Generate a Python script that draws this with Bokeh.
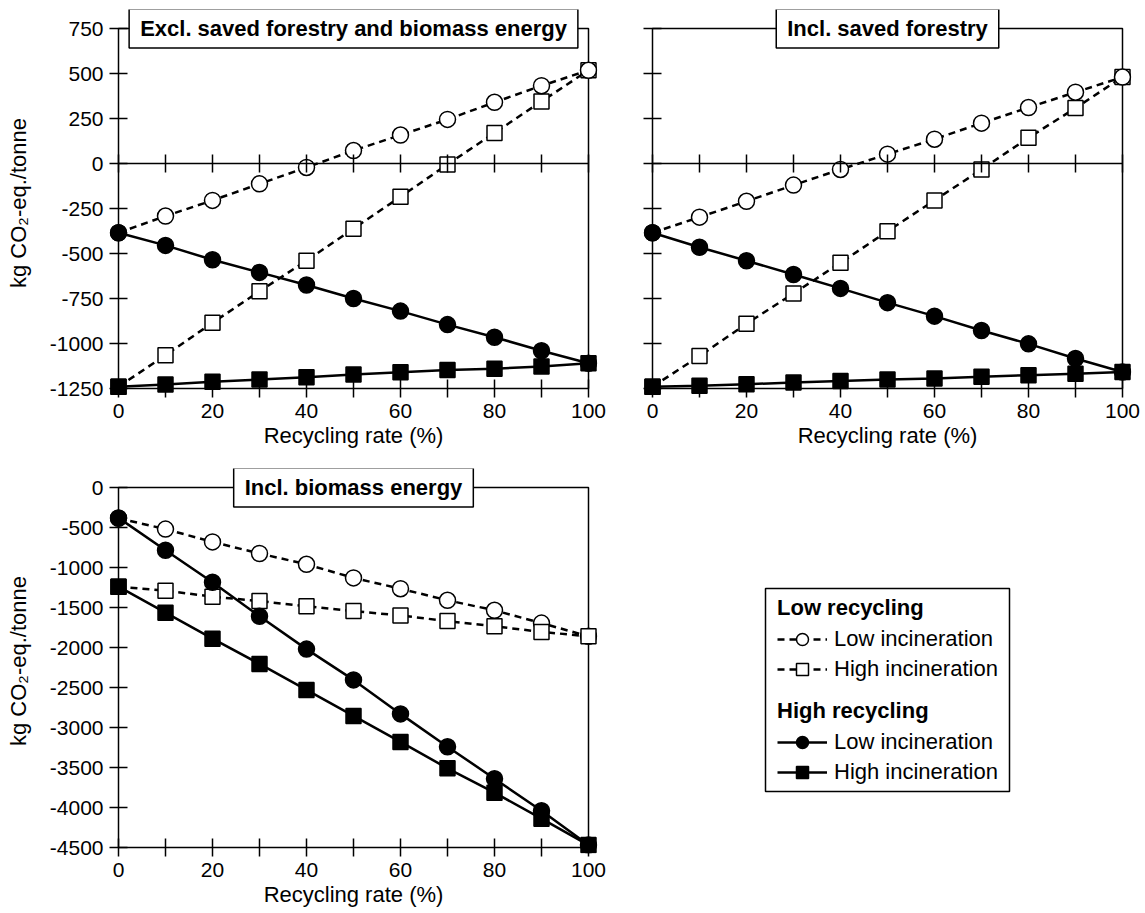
import math
from bokeh.plotting import figure
from bokeh.models import (Range1d, LinearAxis, FixedTicker, BoxAnnotation, Label,
                          Legend, LegendItem, Spacer, PrintfTickFormatter)
from bokeh.layouts import column, row
from bokeh.embed import file_html
from bokeh.resources import INLINE

# ---------------- data ----------------
recycling_rate = [0, 10, 20, 30, 40, 50, 60, 70, 80, 90, 100]
x_major_ticks = [0, 20, 40, 60, 80, 100]
x_minor_ticks = [10, 30, 50, 70, 90]
top_y_ticks = [-1250, -1000, -750, -500, -250, 0, 250, 500, 750]
bottom_y_ticks = [-4500, -4000, -3500, -3000, -2500, -2000, -1500, -1000, -500, 0]

titles = ["Excl. saved forestry and biomass energy", "Incl. saved forestry", "Incl. biomass energy"]
x_label = "Recycling rate (%)"
y_label = "kg CO\u2082-eq./tonne"
legend_groups = ["Low recycling", "High recycling"]
legend_items = ["Low incineration", "High incineration"]

# panel 1: excl. saved forestry and biomass energy
excl_lowrec_lowinc = [-385, -292, -205, -113, -22, 72, 158, 245, 340, 432, 518]
excl_lowrec_highinc = [-1240, -1065, -885, -710, -540, -362, -185, -5, 170, 345, 518]
excl_highrec_lowinc = [-385, -455, -535, -605, -675, -750, -820, -895, -965, -1040, -1110]
excl_highrec_highinc = [-1240, -1228, -1213, -1200, -1188, -1172, -1160, -1147, -1140, -1128, -1110]

# panel 2: incl. saved forestry
forest_lowrec_lowinc = [-385, -298, -210, -120, -33, 52, 135, 224, 311, 396, 480]
forest_lowrec_highinc = [-1240, -1070, -890, -722, -552, -376, -205, -33, 143, 308, 480]
forest_highrec_lowinc = [-385, -465, -540, -617, -694, -773, -848, -928, -1002, -1083, -1158]
forest_highrec_highinc = [-1240, -1235, -1227, -1216, -1209, -1200, -1194, -1185, -1176, -1168, -1158]

# panel 3: incl. biomass energy
bio_lowrec_lowinc = [-385, -520, -680, -825, -960, -1130, -1265, -1410, -1535, -1695, -1860]
bio_lowrec_highinc = [-1240, -1290, -1365, -1420, -1485, -1545, -1600, -1670, -1735, -1805, -1860]
bio_highrec_lowinc = [-380, -785, -1185, -1610, -2020, -2405, -2830, -3240, -3640, -4040, -4470]
bio_highrec_highinc = [-1240, -1565, -1890, -2205, -2530, -2855, -3180, -3510, -3815, -4140, -4470]

# ---------------- style ----------------
FONT = "Liberation Sans"
TICK_FS = "21px"
LABEL_FS = "22px"
BOX_W, BOX_H = 470, 360
PAD_L, PAD_R, PAD_T = 9, 9, 19
TICK = 9
DASH = "7 5"
LW = 2.5

STYLES = {
    "lowrec_highinc": dict(marker="square", size=15, fill="white", dash=DASH),
    "lowrec_lowinc": dict(marker="circle", size=16, fill="white", dash=DASH),
    "highrec_highinc": dict(marker="square", size=15, fill="black", dash="solid"),
    "highrec_lowinc": dict(marker="circle", size=16, fill="black", dash="solid"),
}
ORDER_TOP = ["lowrec_highinc", "lowrec_lowinc", "highrec_highinc", "highrec_lowinc"]
ORDER_BOTTOM = ["lowrec_lowinc", "lowrec_highinc", "highrec_lowinc", "highrec_highinc"]


def style_axis(ax, labels, tick_in, tick_out, standoff=6):
    ax.axis_line_color = None
    ax.major_tick_line_width = 1.5
    ax.minor_tick_line_width = 1.5
    ax.major_tick_line_color = "black"
    ax.minor_tick_line_color = "black"
    ax.major_tick_in = tick_in
    ax.major_tick_out = tick_out
    ax.minor_tick_in = tick_in
    ax.minor_tick_out = tick_out
    ax.major_label_text_font = FONT
    ax.formatter = PrintfTickFormatter(format="%d")
    if labels:
        ax.major_label_text_font_size = TICK_FS
        ax.major_label_text_color = "black"
        ax.major_label_standoff = standoff
    else:
        ax.major_label_text_font_size = "0px"
        ax.major_label_text_color = None
        ax.major_label_standoff = 0
    ax.axis_label_text_font = FONT
    ax.axis_label_text_font_size = LABEL_FS
    ax.axis_label_text_font_style = "normal"
    ax.axis_label_text_color = "black"


def make_panel(title, series, order, y_ticks, show_ylabels, mid_axis, pad_b,
               min_left, min_right, min_top, min_bottom):
    xmin, xmax = recycling_rate[0], recycling_rate[-1]
    ymin, ymax = y_ticks[0], y_ticks[-1]
    ux = (xmax - xmin) / BOX_W
    uy = (ymax - ymin) / BOX_H
    p = figure(frame_width=BOX_W + PAD_L + PAD_R, frame_height=BOX_H + PAD_T + pad_b,
               x_range=Range1d(xmin - PAD_L * ux, xmax + PAD_R * ux),
               y_range=Range1d(ymin - pad_b * uy, ymax + PAD_T * uy),
               x_axis_type=None, y_axis_type=None,
               toolbar_location=None, output_backend="svg",
               min_border_left=min_left, min_border_right=min_right,
               min_border_top=min_top, min_border_bottom=min_bottom)
    p.outline_line_color = None
    p.background_fill_color = "white"
    p.border_fill_color = "white"

    # frame of the panel (axes box)
    box = BoxAnnotation(left=xmin, right=xmax, bottom=ymin, top=ymax,
                        fill_color=None, fill_alpha=0, line_color="black",
                        line_alpha=1.0, line_width=1.5, level="underlay")
    p.add_layout(box)

    # y axis (ticks cross the box edge, which sits PAD_L inside the frame)
    yax = LinearAxis(ticker=FixedTicker(ticks=y_ticks))
    style_axis(yax, show_ylabels, PAD_L + TICK, max(TICK - PAD_L, 0))
    if show_ylabels:
        yax.axis_label = y_label
        yax.axis_label_standoff = 16
    p.add_layout(yax, "left")

    # bottom x axis
    xax = LinearAxis(ticker=FixedTicker(ticks=x_major_ticks, minor_ticks=x_minor_ticks))
    style_axis(xax, True, pad_b + TICK, max(TICK - pad_b, 0), standoff=6 - max(pad_b - TICK, 0))
    xax.axis_label = x_label
    xax.axis_label_standoff = 2
    p.add_layout(xax, "below")

    # x axis line through zero
    if mid_axis:
        max_ = LinearAxis(fixed_location=0, bounds=(xmin, xmax),
                          ticker=FixedTicker(ticks=x_major_ticks, minor_ticks=x_minor_ticks))
        style_axis(max_, False, TICK, TICK)
        max_.axis_line_color = "black"
        max_.axis_line_width = 1.5
        p.add_layout(max_, "above")

    for key in order:
        st = STYLES[key]
        vals = series[key]
        p.line(recycling_rate, vals, line_color="black", line_width=LW, line_dash=st["dash"])
        p.scatter(recycling_rate, vals, marker=st["marker"], size=st["size"],
                  fill_color=st["fill"], line_color="black", line_width=1.5)

    p.add_layout(Label(x=(xmin + xmax) / 2, y=ymax, text=title,
                       text_align="center", text_baseline="middle",
                       text_font=FONT, text_font_size=LABEL_FS, text_font_style="bold",
                       text_color="black",
                       background_fill_color="white", border_line_color="black",
                       border_line_width=1.5, padding=(11, 7)))
    return p


p1 = make_panel(titles[0], {
    "lowrec_lowinc": excl_lowrec_lowinc, "lowrec_highinc": excl_lowrec_highinc,
    "highrec_lowinc": excl_highrec_lowinc, "highrec_highinc": excl_highrec_highinc},
    ORDER_TOP, top_y_ticks, True, True, 8, 109, 16, 9, 67)

p2 = make_panel(titles[1], {
    "lowrec_lowinc": forest_lowrec_lowinc, "lowrec_highinc": forest_lowrec_highinc,
    "highrec_lowinc": forest_highrec_lowinc, "highrec_highinc": forest_highrec_highinc},
    ORDER_TOP, top_y_ticks, False, True, 8, 30, 12, 9, 67)

bio_series = {
    "lowrec_lowinc": bio_lowrec_lowinc, "lowrec_highinc": bio_lowrec_highinc,
    "highrec_lowinc": bio_highrec_lowinc, "highrec_highinc": bio_highrec_highinc}
p3 = make_panel(titles[2], bio_series, ORDER_BOTTOM, bottom_y_ticks, True, False, 6,
                109, 16, 5, 58)

# ---------------- legend panel ----------------
p4 = figure(frame_width=244, frame_height=203, x_range=Range1d(0, 1), y_range=Range1d(0, 1),
            x_axis_type=None, y_axis_type=None, toolbar_location=None, output_backend="svg",
            min_border_left=152, min_border_right=5, min_border_top=5, min_border_bottom=5)
p4.outline_line_color = "black"
p4.outline_line_width = 1.5
p4.outline_line_alpha = 1.0


def legend_pair(key):
    # proxies for the legend swatches; their points fall outside this empty box
    st = STYLES[key]
    ln = p4.line(recycling_rate, bio_series[key], line_color="black", line_width=LW,
                 line_dash=st["dash"])
    sc = p4.scatter(recycling_rate, bio_series[key], marker=st["marker"], size=st["size"],
                    fill_color=st["fill"], line_color="black", line_width=1.5)
    return [ln, sc]


def make_legend(group, keys, loc):
    lg = Legend(items=[LegendItem(label=legend_items[i], renderers=legend_pair(k))
                       for i, k in enumerate(keys)],
                title=group, location=loc)
    lg.title_text_font = FONT
    lg.title_text_font_size = LABEL_FS
    lg.title_text_font_style = "bold"
    lg.title_text_color = "black"
    lg.title_standoff = 3
    lg.label_text_font = FONT
    lg.label_text_font_size = LABEL_FS
    lg.label_text_color = "black"
    lg.glyph_width = 50
    lg.glyph_height = 30
    lg.label_height = 30
    lg.label_standoff = 7
    lg.spacing = -1
    lg.padding = 0
    lg.margin = 0
    lg.border_line_color = None
    lg.background_fill_alpha = 0
    return lg


p4.add_layout(make_legend(legend_groups[0], ["lowrec_lowinc", "lowrec_highinc"], (12, 107)))
p4.add_layout(make_legend(legend_groups[1], ["highrec_lowinc", "highrec_highinc"], (12, 4)))

layout = column(row(p1, p2), row(p3, column(Spacer(width=1, height=120), p4)))

open("out.html", "w").write(file_html(layout, INLINE))
